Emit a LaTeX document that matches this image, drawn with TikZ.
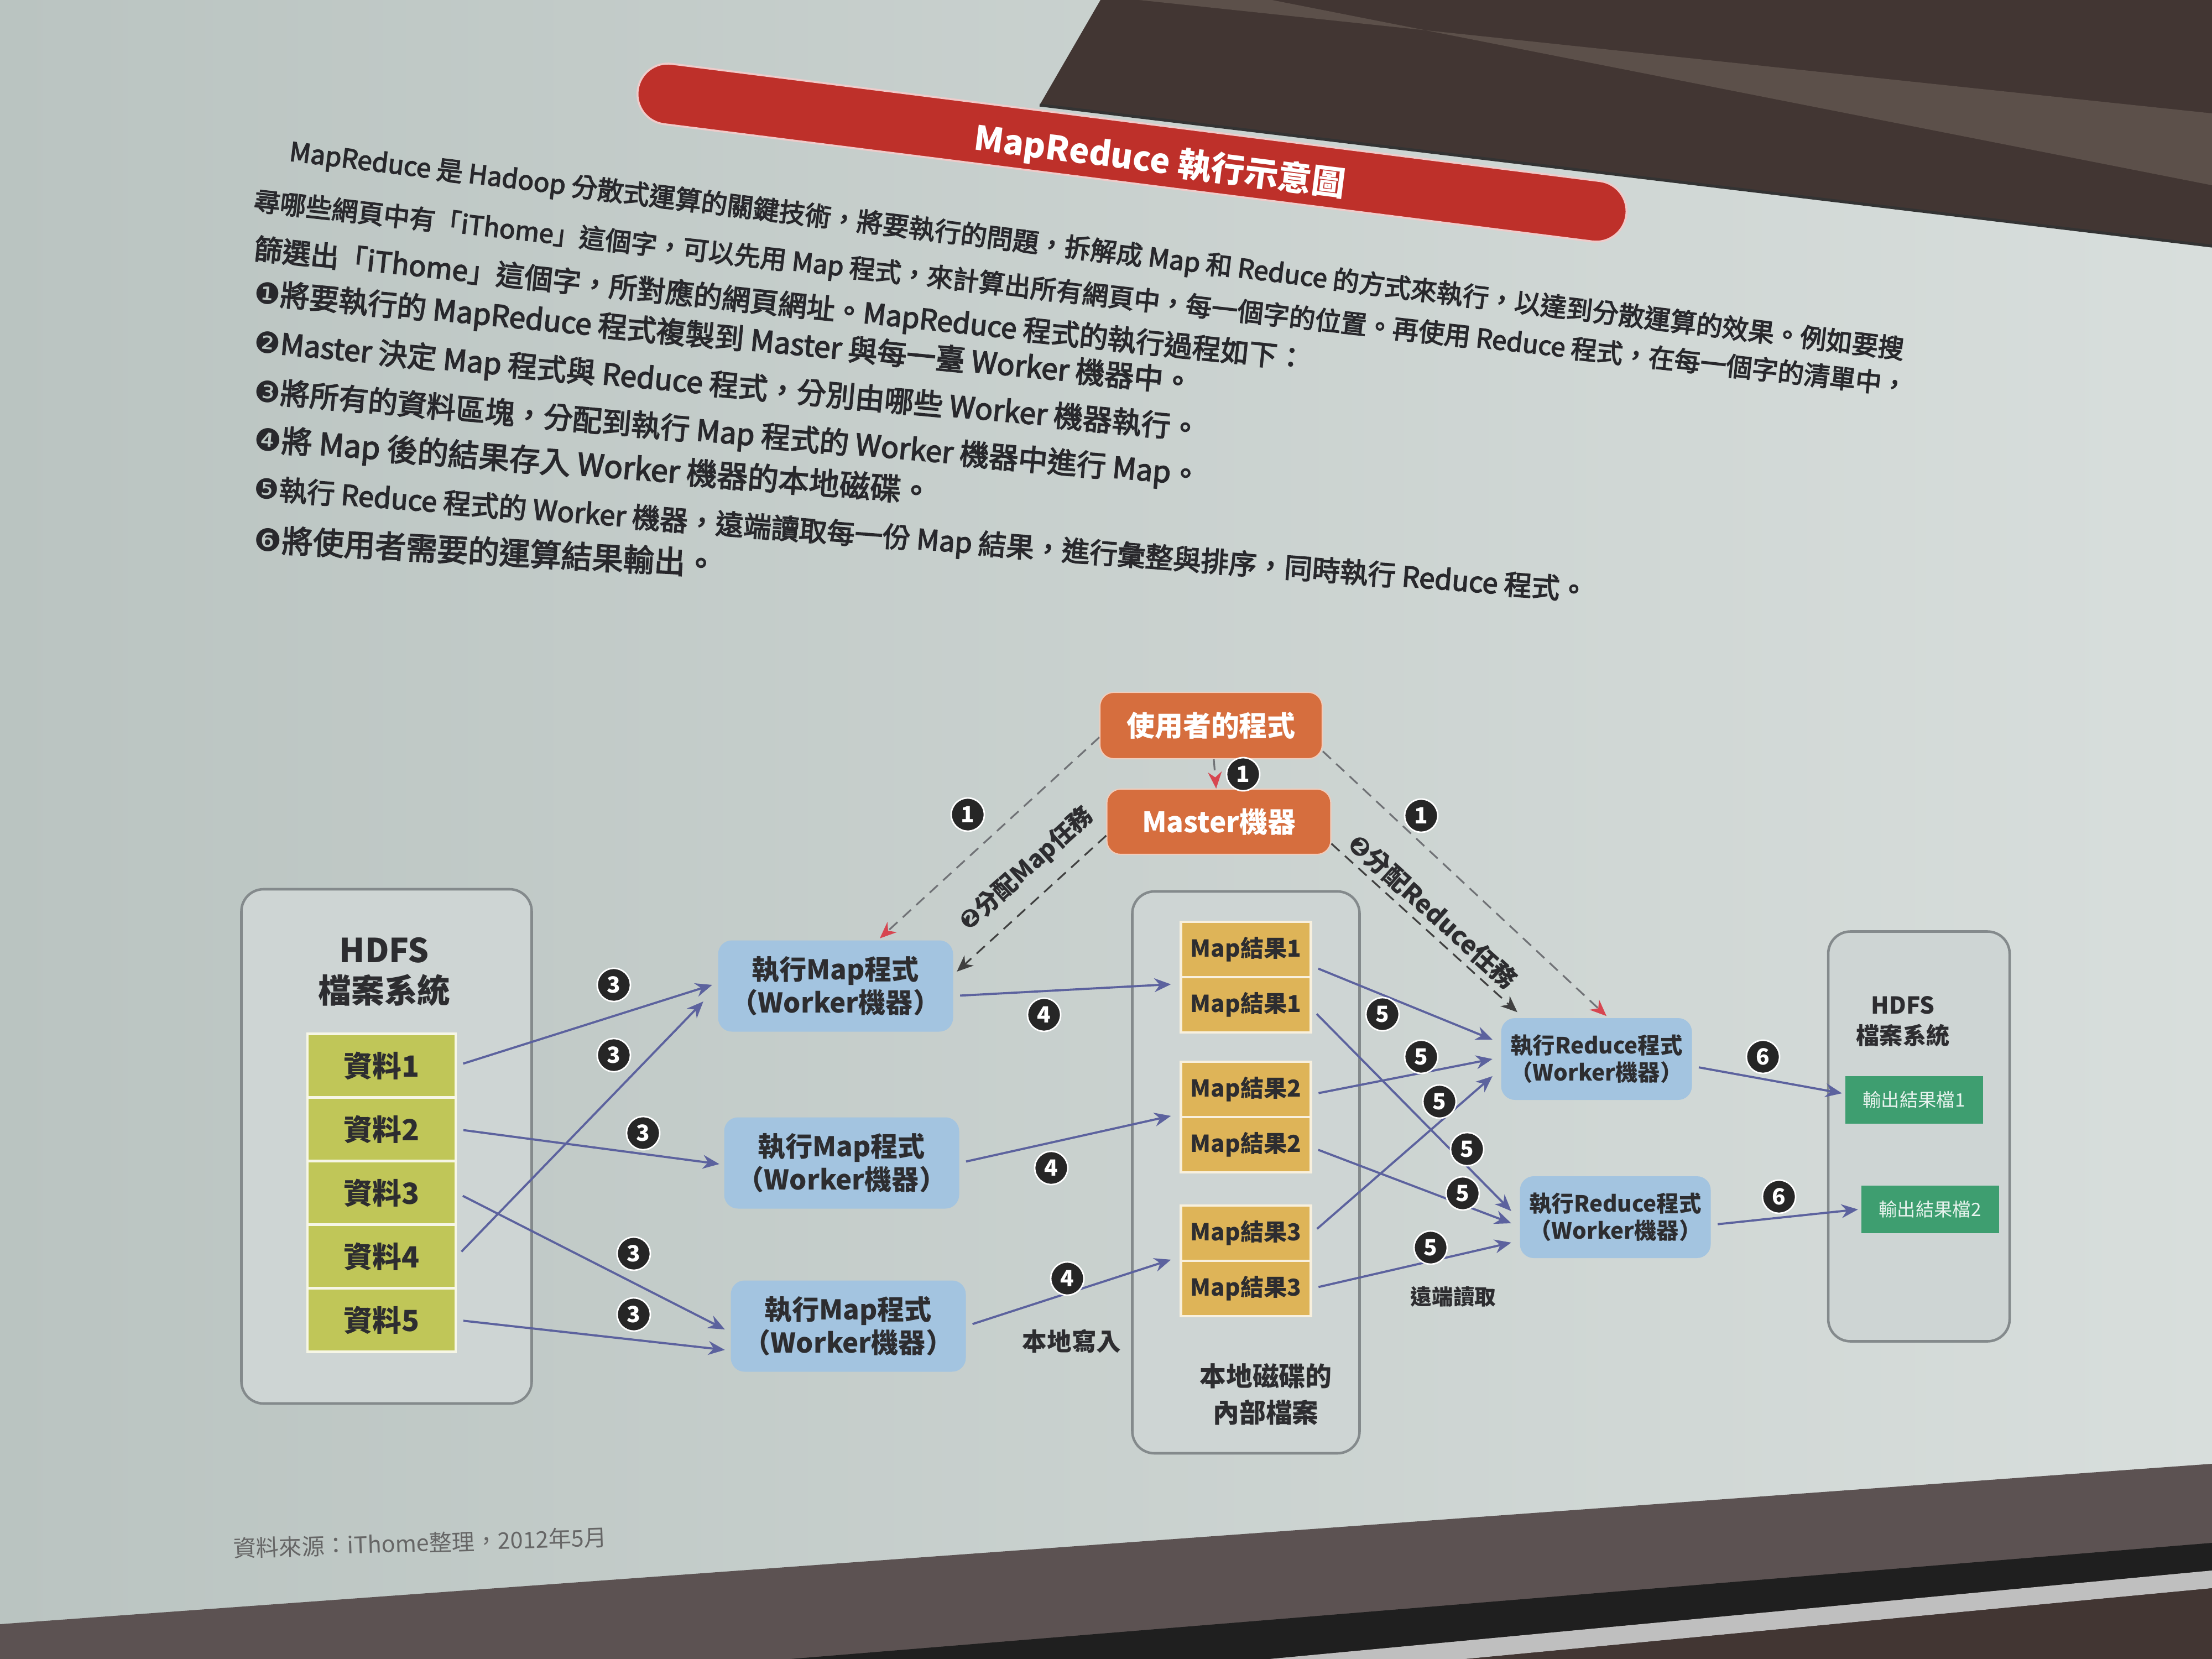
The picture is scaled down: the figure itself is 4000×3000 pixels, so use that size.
\documentclass[tikz,border=0pt]{standalone}
\usepackage{fontspec}
\usepackage{graphicx}
\setmainfont{Noto Sans CJK TC}
\newfontfamily\parafont[FakeBold=3]{Noto Sans CJK TC}
\newfontfamily\dingfont{DejaVu Sans}
\usetikzlibrary{arrows.meta,calc}

\definecolor{slideA}{RGB}{186,196,193}
\definecolor{slideB}{RGB}{216,222,220}
\definecolor{screendark}{RGB}{66,54,51}
\definecolor{screenband}{RGB}{92,80,74}
\definecolor{floorband}{RGB}{92,82,82}
\definecolor{boxfill}{RGB}{206,213,212}
\definecolor{boxline}{RGB}{132,138,140}
\definecolor{workerblue}{RGB}{163,196,224}
\definecolor{ctrlorange}{RGB}{214,110,62}
\definecolor{resgold}{RGB}{222,180,88}
\definecolor{datagreen}{RGB}{192,198,88}
\definecolor{outgreen}{RGB}{62,158,112}
\definecolor{flowblue}{RGB}{92,98,158}
\definecolor{dashgrey}{RGB}{112,114,118}
\definecolor{headred}{RGB}{215,70,80}
\definecolor{titlered}{RGB}{190,48,42}
\definecolor{textdark}{RGB}{45,45,48}
\definecolor{paratext}{RGB}{40,40,44}

\newcommand{\dg}[1]{{\dingfont #1}}
\newcommand{\paraline}[2]{\resizebox{#1}{!}{\parafont\fontsize{14}{14}\selectfont #2}}

\begin{document}
\begin{tikzpicture}[x=0.1mm,y=-0.1mm,
  container/.style={draw=boxline, line width=1.3pt, fill=boxfill, rounded corners=4mm},
  worker/.style={fill=workerblue, rounded corners=2.5mm, minimum width=42.5mm, minimum height=16.5mm,
    align=center, inner sep=0pt, text=textdark, font=\bfseries\fontsize{14}{17}\selectfont},
  reducer/.style={worker, minimum width=34.5mm, minimum height=14.8mm, font=\bfseries\fontsize{11.5}{14}\selectfont},
  ctrl/.style={fill=ctrlorange, rounded corners=2.5mm, draw=white!65!ctrlorange, line width=0.6pt,
    minimum width=40.2mm, minimum height=12mm, inner sep=0pt, text=white, font=\bfseries\fontsize{14.5}{16}\selectfont},
  datablk/.style={fill=datagreen, draw=white!85!datagreen, line width=1.2pt, minimum width=26.8mm,
    minimum height=11.5mm, inner sep=0pt, text=textdark, font=\bfseries\fontsize{15}{16}\selectfont},
  result/.style={fill=resgold, draw=white!80!resgold, line width=1.2pt, minimum width=23.5mm,
    minimum height=10mm, inner sep=0pt, text=textdark, font=\bfseries\fontsize{12}{13}\selectfont},
  outfile/.style={fill=outgreen, minimum width=24.9mm, minimum height=8.6mm, inner sep=0pt,
    text=white!88!outgreen, font=\fontsize{9.5}{10}\selectfont},
  num/.style={circle, fill=black!85, draw=white, line width=0.8pt, text=white, inner sep=0pt,
    minimum size=6mm, font=\bfseries\fontsize{11.5}{11.5}\selectfont},
  flow/.style={draw=flowblue, line width=1.1pt, -{Stealth[length=3mm,width=2.5mm]}, shorten <=1.2mm},
  userlink/.style={draw=dashgrey, line width=0.9pt, dash pattern=on 2mm off 1.3mm,
    -{Stealth[length=3mm,width=2.5mm,color=headred]}},
  tasklink/.style={draw=black!75, line width=0.9pt, dash pattern=on 2mm off 1.3mm,
    -{Stealth[length=3mm,width=2.5mm]}},
  lbl/.style={text=textdark, inner sep=0pt, align=center},
  para/.style={anchor=west, inner sep=0pt, text=paratext},
]
\useasboundingbox (0,0) rectangle (4000,3000);

% slide surface
\shade[left color=slideA, right color=slideB] (0,0) rectangle (4000,3000);

% screen housing above the slide
\fill[screendark] (1990,0) -- (4000,0) -- (4000,445) -- (1880,190) -- cycle;
\fill[screenband] (2060,0) -- (2300,0) -- (4000,335) -- (4000,205) -- cycle;
\draw[black!80, line width=1.5pt] (1880,190) -- (4000,445);

% floor edge below the slide
\fill[floorband] (0,2937) -- (4000,2647) -- (4000,3000) -- (0,3000) -- cycle;
\fill[black!88] (1429,3000) -- (4000,2790) -- (4000,2840) -- (2296,3000) -- cycle;
\fill[black!25] (2296,3000) -- (4000,2840) -- (4000,2872) -- (2650,3000) -- cycle;
\fill[screendark] (2650,3000) -- (4000,2872) -- (4000,3000) -- cycle;

% title banner
\node[fill=titlered, draw=white!75!titlered, line width=1pt, rounded corners=5.5mm,
      minimum width=180.2mm, minimum height=11mm, rotate=-7.2] (banner) at (2047,276) {};
\node[text=white, inner sep=0pt, rotate=-7.2] (title) at (2097,293)
  {\resizebox{67.6mm}{!}{\bfseries MapReduce 執行示意圖}};

% introduction and steps
\node[para, rotate=-7.0] (p1) at (523,276) {\paraline{294.1mm}{MapReduce 是 Hadoop 分散式運算的關鍵技術，將要執行的問題，拆解成 Map 和 Reduce 的方式來執行，以達到分散運算的效果。例如要搜}};
\node[para, rotate=-6.4] (p2) at (459,365) {\paraline{300.8mm}{尋哪些網頁中有「iThome」這個字，可以先用 Map 程式，來計算出所有網頁中，每一個字的位置。再使用 Reduce 程式，在每一個字的清單中，}};
\node[para, rotate=-6.0] (p3) at (459,452) {\paraline{191.1mm}{篩選出「iThome」這個字，所對應的網頁網址。MapReduce 程式的執行過程如下：}};
\node[para, rotate=-5.5] (s1) at (459,531) {\paraline{170.4mm}{\dg{❶}將要執行的 MapReduce 程式複製到 Master 與每一臺 Worker 機器中。}};
\node[para, rotate=-5.3] (s2) at (459,620) {\paraline{171.7mm}{\dg{❷}Master 決定 Map 程式與 Reduce 程式，分別由哪些 Worker 機器執行。}};
\node[para, rotate=-5.1] (s3) at (459,709) {\paraline{171.7mm}{\dg{❸}將所有的資料區塊，分配到執行 Map 程式的 Worker 機器中進行 Map。}};
\node[para, rotate=-4.5] (s4) at (459,796) {\paraline{122.8mm}{\dg{❹}將 Map 後的結果存入 Worker 機器的本地磁碟。}};
\node[para, rotate=-4.4] (s5) at (459,885) {\paraline{241.8mm}{\dg{❺}執行 Reduce 程式的 Worker 機器，遠端讀取每一份 Map 結果，進行彙整與排序，同時執行 Reduce 程式。}};
\node[para, rotate=-3.1] (s6) at (459,974) {\paraline{83.7mm}{\dg{❻}將使用者需要的運算結果輸出。}};

% containers
\node[container, minimum width=52.5mm, minimum height=93mm] (hdfsin) at (699,2073) {};
\node[container, minimum width=41.1mm, minimum height=101.6mm] (disk) at (2253,2120) {};
\node[container, minimum width=32.8mm, minimum height=74.1mm] (hdfsout) at (3470,2055) {};

\node[lbl, font=\bfseries\fontsize{17}{20.8}\selectfont] (hdfsinT) at (695,1757) {HDFS\\檔案系統};
\node[lbl, font=\bfseries\fontsize{12}{15.6}\selectfont] (hdfsoutT) at (3441,1847) {HDFS\\檔案系統};
\node[lbl, font=\bfseries\fontsize{13.6}{18.8}\selectfont] (diskT) at (2289,2521) {本地磁碟的\\內部檔案};

% input blocks
\node[datablk] (d1) at (690,1927) {資料1};
\node[datablk] (d2) at (690,2042) {資料2};
\node[datablk] (d3) at (690,2157) {資料3};
\node[datablk] (d4) at (690,2272) {資料4};
\node[datablk] (d5) at (690,2387) {資料5};

% control nodes
\node[ctrl] (user) at (2190,1312) {使用者的程式};
\node[ctrl, minimum width=40.5mm, minimum height=11.8mm] (master) at (2204,1486) {Master機器};

% map workers
\node[worker] (m1) at (1511,1783) {執行Map程式\\（Worker機器）};
\node[worker] (m2) at (1522,2103) {執行Map程式\\（Worker機器）};
\node[worker] (m3) at (1534,2398) {執行Map程式\\（Worker機器）};

% intermediate results on local disk
\node[result] (r1a) at (2253,1717) {Map結果1};
\node[result] (r1b) at (2253,1817) {Map結果1};
\node[result] (r2a) at (2253,1970) {Map結果2};
\node[result] (r2b) at (2253,2070) {Map結果2};
\node[result] (r3a) at (2253,2230) {Map結果3};
\node[result] (r3b) at (2253,2330) {Map結果3};

% reduce workers
\node[reducer] (red1) at (2887,1915) {執行Reduce程式\\（Worker機器）};
\node[reducer] (red2) at (2921,2201) {執行Reduce程式\\（Worker機器）};

% output files
\node[outfile] (o1) at (3461,1989) {輸出結果檔1};
\node[outfile] (o2) at (3490,2187) {輸出結果檔2};

% step 1: copy program
\draw[userlink] (user) -- (master);
\draw[userlink] (user.186) -- ($(m1.north)+(8mm,0.3mm)$);
\draw[userlink] (user.-13) -- ($(red1.north)+(1.8mm,0.3mm)$);
% step 2: assign tasks
\draw[tasklink] (master.187) -- ($(m1.east)+(0.6mm,2.6mm)$);
\draw[tasklink] (master.-11) -- ($(red1.north west)+(3mm,1mm)$);

% step 3: input splits to map workers
\draw[flow] (d1.east) -- ($(m1.west)+(-1mm,0.2mm)$);
\draw[flow] (d4.east) -- ($(m1.west)+(-2.6mm,-2.8mm)$);
\draw[flow] (d2.east) -- ($(m2.west)+(-0.8mm,-0.2mm)$);
\draw[flow] (d3.east) -- ($(m3.west)+(-1mm,-0.6mm)$);
\draw[flow] (d5.east) -- ($(m3.west)+(-1mm,-4.3mm)$);

% step 4: local writes
\draw[flow] ($(m1.east)+(0mm,-1.8mm)$) -- ($(r1b.north west)+(-1.6mm,-1.5mm)$);
\draw[flow] (m2.east) -- ($(r2b.north west)+(-1.6mm,0mm)$);
\draw[flow] (m3.east) -- ($(r3b.north west)+(-1.6mm,0mm)$);

% step 5: remote reads
\draw[flow] ($(r1a.east)+(0mm,-3mm)$) -- ($(red1.west)+(-1.5mm,3.5mm)$);
\draw[flow] ($(r2a.east)+(0mm,-0.9mm)$) -- ($(red1.west)+(-1.5mm,0mm)$);
\draw[flow] (r3a.east) -- ($(red1.west)+(-1.5mm,-3.1mm)$);
\draw[flow] ($(r1b.east)+(0mm,-0.8mm)$) -- ($(red2.west)+(-1.5mm,1.1mm)$);
\draw[flow] ($(r2b.east)+(0mm,-0.5mm)$) -- ($(red2.west)+(-1.5mm,-1.1mm)$);
\draw[flow] (r3b.east) -- ($(red2.west)+(-1.5mm,-4.6mm)$);

% step 6: write output
\draw[flow] ($(red1.east)+(0mm,-1.3mm)$) -- ($(o1.west)+(-0.5mm,1.2mm)$);
\draw[flow] ($(red2.east)+(0mm,-1.4mm)$) -- ($(o2.west)+(-0.5mm,0mm)$);

% step labels
\node[num] (n1a) at (2248,1400) {1};
\node[num] (n1b) at (1750,1473) {1};
\node[num] (n1c) at (2570,1475) {1};
\node[lbl, rotate=42, font=\bfseries\fontsize{12.5}{12.5}\selectfont] (maptask) at (1856,1571) {\dg{❷}分配Map任務};
\node[lbl, rotate=-42, font=\bfseries\fontsize{13}{13}\selectfont] (redtask) at (2591,1648) {\dg{❷}分配Reduce任務};

\node[num] (n3a) at (1110,1781) {3};
\node[num] (n3b) at (1110,1908) {3};
\node[num] (n3c) at (1163,2049) {3};
\node[num] (n3d) at (1146,2267) {3};
\node[num] (n3e) at (1146,2377) {3};

\node[num] (n4a) at (1888,1835) {4};
\node[num] (n4b) at (1901,2112) {4};
\node[num] (n4c) at (1930,2312) {4};
\node[lbl, font=\bfseries\fontsize{12.7}{13}\selectfont] (localw) at (1938,2425) {本地寫入};

\node[num] (n5a) at (2500,1834) {5};
\node[num] (n5b) at (2570,1911) {5};
\node[num] (n5c) at (2603,1992) {5};
\node[num] (n5d) at (2653,2078) {5};
\node[num] (n5e) at (2645,2158) {5};
\node[num] (n5f) at (2587,2256) {5};
\node[lbl, font=\bfseries\fontsize{11}{12}\selectfont] (remoter) at (2628,2345) {遠端讀取};

\node[num] (n6a) at (3188,1911) {6};
\node[num] (n6b) at (3217,2164) {6};

% source line
\node[para, rotate=1.7, text=black!60] (source) at (421,2800)
  {\resizebox{67.6mm}{!}{\fontsize{12}{12}\selectfont 資料來源：iThome整理，2012年5月}};
\end{tikzpicture}
\end{document}
